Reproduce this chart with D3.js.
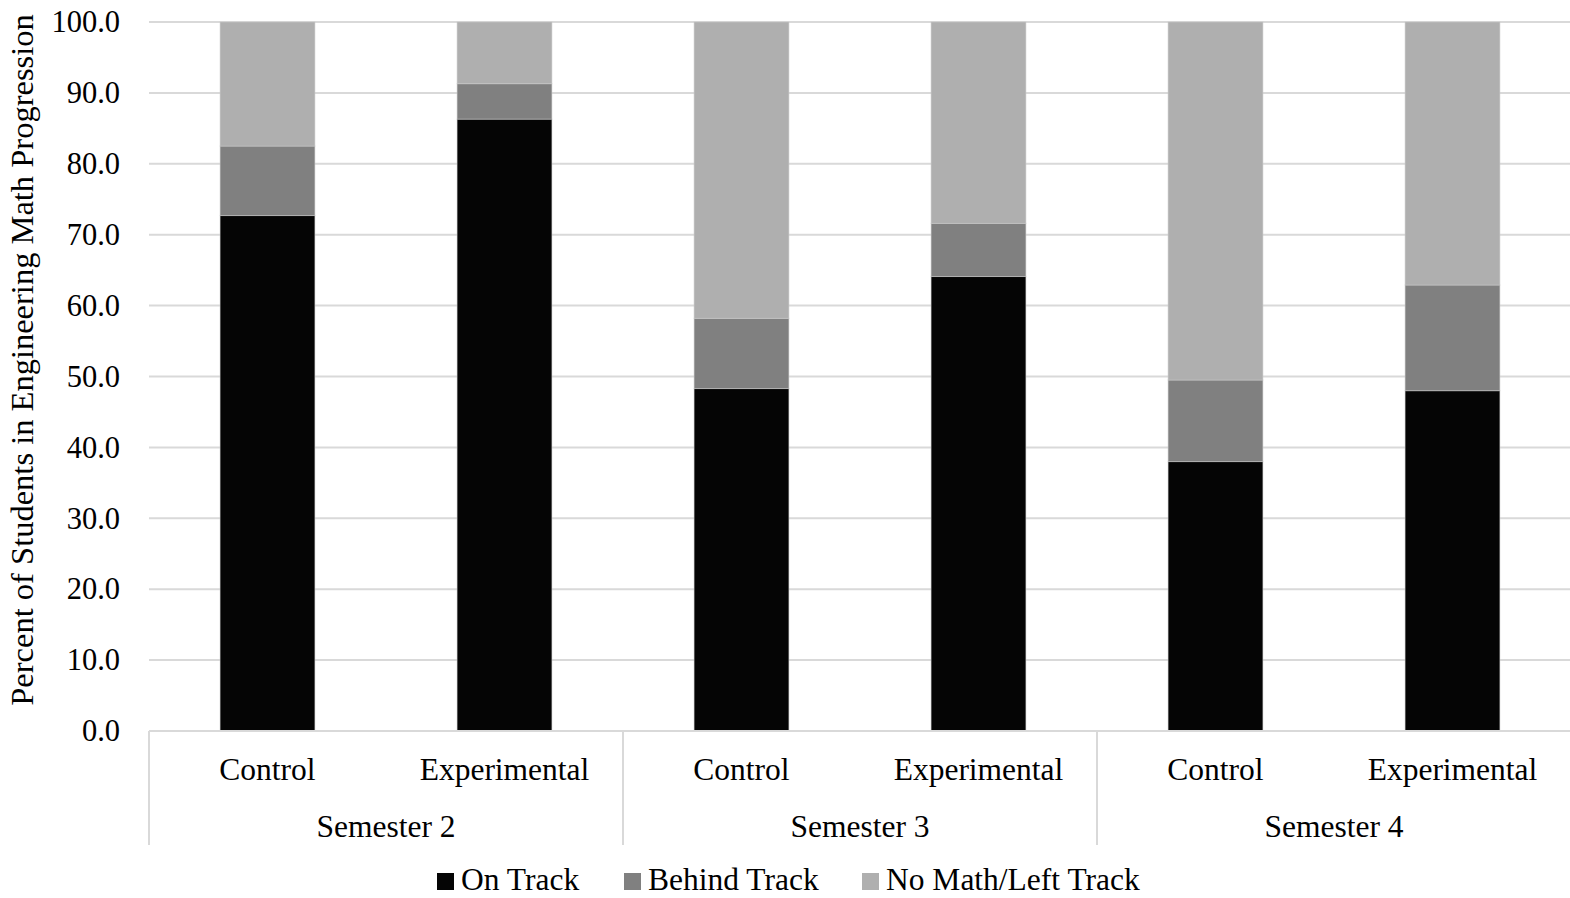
<!DOCTYPE html>
<html>
<head>
<meta charset="utf-8">
<script src="https://cdn.jsdelivr.net/npm/d3@7"></script>
<style>
  html, body { margin: 0; padding: 0; background: #fff; }
  svg { display: block; }
  text { font-family: "Liberation Serif", "Times New Roman", serif; fill: #000; }
</style>
</head>
<body>
<svg id="chart" width="1570" height="898"></svg>
<script>
// Math progression status by semester and cohort (percent of students)
const semesters = ["Semester 2", "Semester 3", "Semester 4"];
const groups = ["Control", "Experimental"];
const onTrack     = [72.7, 86.3, 48.3, 64.1, 38.0, 48.0];
const behindTrack = [ 9.8,  5.0,  9.9,  7.5, 11.5, 14.9];
const noMathLeft  = [17.5,  8.7, 41.8, 28.4, 50.5, 37.1];
const seriesNames = ["On Track", "Behind Track", "No Math/Left Track"];
const seriesColors = ["#050505", "#808080", "#afafaf"];
const yTicks = [0, 10, 20, 30, 40, 50, 60, 70, 80, 90, 100];

const W = 1570, H = 898;
const plot = { left: 149, right: 1571, top: 22, bottom: 731 };

const svg = d3.select("#chart");

// One row per bar: semester, cohort and the three stacked values
const rows = [];
semesters.forEach((s, si) => {
  groups.forEach((g, gi) => {
    const i = si * groups.length + gi;
    rows.push({
      key: s + "|" + g, semester: s, group: g,
      "On Track": onTrack[i],
      "Behind Track": behindTrack[i],
      "No Math/Left Track": noMathLeft[i]
    });
  });
});

const x = d3.scaleBand()
  .domain(rows.map(d => d.key))
  .range([plot.left, plot.right])
  .paddingInner(0.6)
  .paddingOuter(0.3);

const xSem = d3.scaleBand()
  .domain(semesters)
  .range([plot.left, plot.right])
  .padding(0);

const y = d3.scaleLinear()
  .domain([0, 100])
  .range([plot.bottom, plot.top]);

// Horizontal gridlines
svg.append("g")
  .selectAll("line")
  .data(yTicks.filter(t => t > 0))
  .join("line")
  .attr("x1", plot.left)
  .attr("x2", W)
  .attr("y1", d => y(d))
  .attr("y2", d => y(d))
  .attr("stroke", "#d9d9d9")
  .attr("stroke-width", 2);

// Y axis tick labels
const yAxis = d3.axisLeft(y)
  .tickValues(yTicks)
  .tickFormat(d3.format(".1f"))
  .tickSize(0)
  .tickPadding(0);

const yg = svg.append("g")
  .attr("transform", `translate(${plot.left - 29},0)`)
  .call(yAxis);
yg.select(".domain").remove();
yg.selectAll("text")
  .attr("font-family", "Liberation Serif, Times New Roman, serif")
  .attr("font-size", 30.5)
  .attr("fill", "#000");

// Stacked bars
const stack = d3.stack().keys(seriesNames);
const layers = stack(rows);

svg.append("g")
  .selectAll("g")
  .data(layers)
  .join("g")
  .attr("fill", (d, i) => seriesColors[i])
  .selectAll("rect")
  .data(d => d)
  .join("rect")
  .attr("x", d => x(d.data.key))
  .attr("width", x.bandwidth())
  .attr("y", d => y(d[1]))
  .attr("height", d => y(d[0]) - y(d[1]))
  .attr("stroke", "#c8c8c8")
  .attr("stroke-opacity", 0.55)
  .attr("stroke-width", 1);

// Category axis line and semester separators
svg.append("line")
  .attr("x1", plot.left).attr("x2", W)
  .attr("y1", plot.bottom).attr("y2", plot.bottom)
  .attr("stroke", "#d9d9d9").attr("stroke-width", 2);

svg.append("g")
  .selectAll("line")
  .data(semesters)
  .join("line")
  .attr("x1", d => xSem(d))
  .attr("x2", d => xSem(d))
  .attr("y1", plot.bottom)
  .attr("y2", 845)
  .attr("stroke", "#d9d9d9")
  .attr("stroke-width", 2);

// Cohort labels
svg.append("g")
  .selectAll("text")
  .data(rows)
  .join("text")
  .attr("x", d => x(d.key) + x.bandwidth() / 2)
  .attr("y", 780)
  .attr("text-anchor", "middle")
  .attr("font-size", 31.5)
  .text(d => d.group);

// Semester labels
svg.append("g")
  .selectAll("text")
  .data(semesters)
  .join("text")
  .attr("x", d => xSem(d) + xSem.bandwidth() / 2)
  .attr("y", 837)
  .attr("text-anchor", "middle")
  .attr("font-size", 31.5)
  .text(d => d);

// Y axis title
svg.append("text")
  .attr("transform", `translate(33,360) rotate(-90)`)
  .attr("text-anchor", "middle")
  .attr("font-size", 32.5)
  .text("Percent of Students in Engineering Math Progression");

// Legend
const legendX = [437, 624, 862];
const lg = svg.append("g")
  .selectAll("g")
  .data(seriesNames)
  .join("g")
  .attr("transform", (d, i) => `translate(${legendX[i]},0)`);
lg.append("rect")
  .attr("x", 0).attr("y", 873)
  .attr("width", 17).attr("height", 17)
  .attr("fill", (d, i) => seriesColors[i]);
lg.append("text")
  .attr("x", 24).attr("y", 890)
  .attr("font-size", 31.5)
  .text(d => d);
</script>
</body>
</html>
